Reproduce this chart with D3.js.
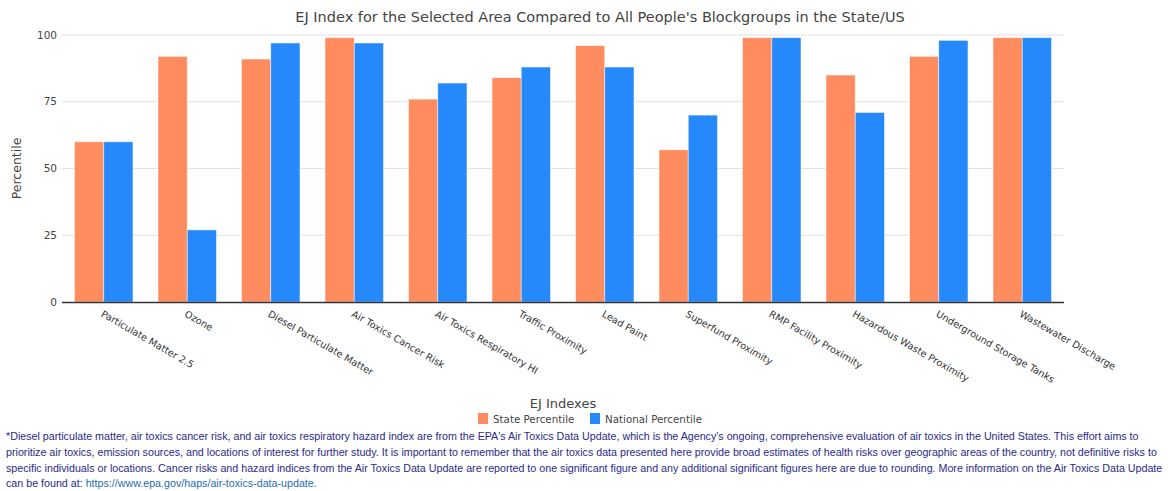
<!DOCTYPE html>
<html>
<head>
<meta charset="utf-8">
<script src="https://cdn.jsdelivr.net/npm/d3@7"></script>
<style>
  html, body { margin: 0; padding: 0; background: #fff; }
  svg { display: block; }
</style>
</head>
<body>
<svg id="chart" width="1173" height="491"></svg>
<script>
const categories = [
  "Particulate Matter 2.5", "Ozone", "Diesel Particulate Matter", "Air Toxics Cancer Risk",
  "Air Toxics Respiratory HI", "Traffic Proximity", "Lead Paint", "Superfund Proximity",
  "RMP Facility Proximity", "Hazardous Waste Proximity", "Underground Storage Tanks", "Wastewater Discharge"
];
const statePercentile = [60, 92, 91, 99, 76, 84, 96, 57, 99, 85, 92, 99];
const nationalPercentile = [60, 27, 97, 97, 82, 88, 88, 70, 99, 71, 98, 99];
const seriesNames = ["State Percentile", "National Percentile"];
const seriesColors = ["#FF8C5F", "#2589FB"];
const yTicks = [0, 25, 50, 75, 100];
const titleText = "EJ Index for the Selected Area Compared to All People's Blockgroups in the State/US";
const xTitle = "EJ Indexes";
const yTitle = "Percentile";
const footLines = [
  "*Diesel particulate matter, air toxics cancer risk, and air toxics respiratory hazard index are from the EPA's Air Toxics Data Update, which is the Agency's ongoing, comprehensive evaluation of air toxics in the United States. This effort aims to",
  "prioritize air toxics, emission sources, and locations of interest for further study. It is important to remember that the air toxics data presented here provide broad estimates of health risks over geographic areas of the country, not definitive risks to",
  "specific individuals or locations. Cancer risks and hazard indices from the Air Toxics Data Update are reported to one significant figure and any additional significant figures here are due to rounding. More information on the Air Toxics Data Update"
];
const footLastPrefix = "can be found at: ";
const footLink = "https://www.epa.gov/haps/air-toxics-data-update.";

const svg = d3.select("#chart");
const font = "'DejaVu Sans', Verdana, sans-serif";
const margin = {left: 62, right: 1064, top: 35, bottom: 302};

const x0 = d3.scaleBand().domain(categories).range([margin.left, margin.right]).paddingInner(0.3).paddingOuter(0.15);
const x1 = d3.scaleBand().domain(seriesNames).range([0, x0.bandwidth()]).padding(0);
const y = d3.scaleLinear().domain([0, 100]).range([margin.bottom, margin.top]);

// gridlines
svg.append("g").selectAll("line").data(yTicks.filter(t => t > 0)).join("line")
  .attr("x1", margin.left).attr("x2", margin.right)
  .attr("y1", d => y(d)).attr("y2", d => y(d))
  .attr("stroke", "#e2e2e2").attr("stroke-width", 1);

// y tick labels
svg.append("g").selectAll("text").data(yTicks).join("text")
  .attr("x", 57).attr("y", d => y(d)).attr("dy", "0.35em")
  .attr("text-anchor", "end").attr("font-family", font).attr("font-size", 10.5)
  .attr("fill", "#444").text(d => d);

// bars
const rows = categories.map((c, i) => ({cat: c, vals: [statePercentile[i], nationalPercentile[i]]}));
const groups = svg.append("g").selectAll("g").data(rows).join("g")
  .attr("transform", d => `translate(${x0(d.cat)},0)`);
groups.selectAll("rect").data(d => d.vals.map((v, j) => ({v, j}))).join("rect")
  .attr("x", d => x1(seriesNames[d.j]))
  .attr("width", x1.bandwidth())
  .attr("y", d => y(d.v))
  .attr("height", d => y(0) - y(d.v))
  .attr("fill", d => seriesColors[d.j])
  .attr("stroke", "#fff").attr("stroke-opacity", 0.6).attr("stroke-width", 0.8);

// x axis line
svg.append("line").attr("x1", margin.left).attr("x2", margin.right)
  .attr("y1", margin.bottom + 0.5).attr("y2", margin.bottom + 0.5)
  .attr("stroke", "#333").attr("stroke-width", 1.5);

// x tick labels
svg.append("g").selectAll("text").data(categories).join("text")
  .attr("transform", d => `translate(${x0(d) + x0.bandwidth() / 2},${margin.bottom + 8}) rotate(30)`)
  .attr("dy", "0.7em")
  .attr("text-anchor", "start").attr("font-family", font).attr("font-size", 9.7)
  .attr("fill", "#333").text(d => d);

// title
svg.append("text").attr("x", 600).attr("y", 22).attr("text-anchor", "middle")
  .attr("font-family", font).attr("font-size", 14.5).attr("fill", "#444").text(titleText);

// y title
svg.append("text").attr("transform", `translate(21,${(margin.top + margin.bottom) / 2}) rotate(-90)`)
  .attr("text-anchor", "middle").attr("font-family", font).attr("font-size", 12.5)
  .attr("fill", "#444").text(yTitle);

// x title
svg.append("text").attr("x", (margin.left + margin.right) / 2).attr("y", 408)
  .attr("text-anchor", "middle").attr("font-family", font).attr("font-size", 13)
  .attr("fill", "#444").text(xTitle);

// legend
const legendX = [478, 590];
const lg = svg.append("g").selectAll("g").data(seriesNames).join("g")
  .attr("transform", (d, i) => `translate(${legendX[i]},413)`);
lg.append("rect").attr("width", 10).attr("height", 11).attr("fill", (d, i) => seriesColors[i]);
lg.append("text").attr("x", 15).attr("y", 10).attr("font-family", font).attr("font-size", 10.3)
  .attr("fill", "#444").text(d => d);

// footnote
const ff = "'Liberation Sans', Arial, Helvetica, sans-serif";
const foot = svg.append("g");
footLines.forEach((t, i) => {
  foot.append("text").attr("x", 6).attr("y", 440 + i * 15.8)
    .attr("font-family", ff).attr("font-size", 10.7).attr("fill", "#2a2a8c").text(t);
});
const last = foot.append("text").attr("x", 6).attr("y", 440 + 3 * 15.8)
  .attr("font-family", ff).attr("font-size", 10.7).attr("fill", "#2a2a8c");
last.append("tspan").text(footLastPrefix);
last.append("tspan").attr("fill", "#1f6db3").text(footLink);
</script>
</body>
</html>
